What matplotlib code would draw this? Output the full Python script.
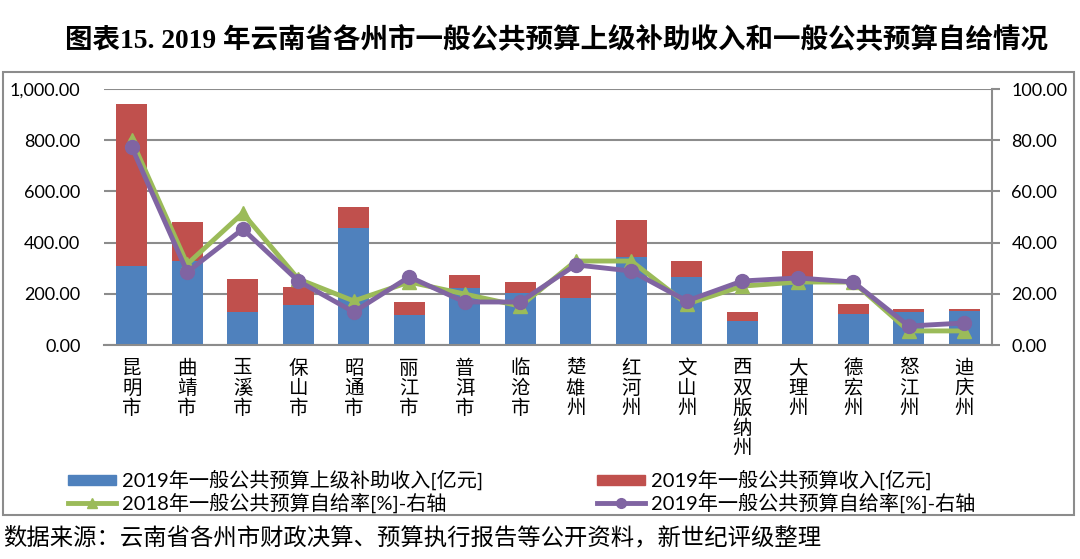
import matplotlib.pyplot as plt
from matplotlib.patches import Rectangle
from matplotlib.lines import Line2D
from matplotlib.patches import Patch

plt.rcParams['font.family'] = ['Lato', 'Noto Sans CJK SC', 'DejaVu Sans']

# data
cities = ['昆明市', '曲靖市', '玉溪市', '保山市', '昭通市', '丽江市', '普洱市', '临沧市',
          '楚雄州', '红河州', '文山州', '西双版纳州', '大理州', '德宏州', '怒江州', '迪庆州']
subsidy_2019 = [309, 328, 129, 156, 457, 117, 223, 203, 184, 344, 266, 94, 250, 121, 129, 133]
revenue_2019 = [632, 152, 129, 70, 82, 51, 50, 43, 86, 144, 62, 35, 117, 39, 12, 8]
rate_2018 = [80.0, 31.6, 51.5, 25.8, 17.2, 24.6, 19.9, 15.2, 32.8, 32.8, 16.0, 23.0, 24.6, 24.6, 5.5, 5.5]
rate_2019 = [77.3, 28.5, 45.3, 25.0, 12.9, 26.6, 16.8, 16.8, 31.3, 28.9, 17.2, 25.0, 26.2, 24.6, 7.4, 8.6]

left_ticks = [0, 200, 400, 600, 800, 1000]
right_ticks = [0, 20, 40, 60, 80, 100]

blue, red, green, purple = '#4F81BD', '#C0504D', '#9BBB59', '#8064A2'
gray = '#8c8c8c'

W, H = 1080, 559
fig = plt.figure(figsize=(W / 100, H / 100), dpi=100)

# outer frame
fig.patches.append(Rectangle((3 / W, 1 - 515 / H), 1071 / W, 443 / H, transform=fig.transFigure,
                             fill=False, edgecolor=gray, linewidth=1.5))

ax = fig.add_axes([104 / W, 1 - 345 / H, (992 - 104) / W, (345 - 89) / H])
x = list(range(len(cities)))
ax.bar(x, subsidy_2019, width=0.56, color=blue, zorder=2)
ax.bar(x, revenue_2019, width=0.56, bottom=subsidy_2019, color=red, zorder=2)
ax.set_xlim(-0.5, len(cities) - 0.5)
ax.set_ylim(0, 1000)
ax.set_yticks(left_ticks)
ax.set_yticklabels([f'{v:,.2f}' for v in left_ticks], fontsize=13)
ax.yaxis.grid(True, color=gray, linewidth=1.5)
ax.set_axisbelow(True)
ax.tick_params(axis='y', length=0, pad=17)
ax.set_xticks(x)
ax.set_xticklabels(['\n'.join(c) for c in cities], fontsize=14, va='top',
                   linespacing=0.95, family=['Noto Sans CJK SC'])
ax.tick_params(axis='x', length=0, pad=9)
for s in ['left', 'top', 'right']:
    ax.spines[s].set_visible(False)
ax.spines['bottom'].set_color(gray)
ax.spines['bottom'].set_linewidth(1.5)

ax2 = ax.twinx()
ax2.plot(x, rate_2018, color=green, linewidth=3.5, marker='^', markersize=10, zorder=3)
ax2.plot(x, rate_2019, color=purple, linewidth=3.5, marker='o', markersize=10, zorder=4)
ax2.set_ylim(0, 100)
ax2.set_yticks(right_ticks)
ax2.set_yticklabels([f'{v:.2f}' for v in right_ticks], fontsize=13)
ax2.tick_params(axis='y', direction='out', length=6, width=1.5, color=gray, pad=8)
for s in ['left', 'top', 'bottom']:
    ax2.spines[s].set_visible(False)
ax2.spines['right'].set_color(gray)
ax2.spines['right'].set_linewidth(1.5)

# legend, two columns placed separately
leg_kw = dict(frameon=False, fontsize=14.5, handlelength=2.4, handletextpad=0.3,
              handleheight=0.35, labelspacing=0.1, borderpad=0, borderaxespad=0,
              loc='upper left')
h1 = [Patch(color=blue), Line2D([], [], color=green, linewidth=3.5, marker='^', markersize=7)]
l1 = ['2019年一般公共预算上级补助收入[亿元]', '2018年一般公共预算自给率[%]-右轴']
h2 = [Patch(color=red), Line2D([], [], color=purple, linewidth=3.5, marker='o', markersize=7)]
l2 = ['2019年一般公共预算收入[亿元]', '2019年一般公共预算自给率[%]-右轴']
fig.legend(h1, l1, bbox_to_anchor=(68 / W, 1 - 470 / H), **leg_kw)
fig.legend(h2, l2, bbox_to_anchor=(597 / W, 1 - 470 / H), **leg_kw)

fig.text(65 / W, 1 - 40 / H, '图表15. 2019 年云南省各州市一般公共预算上级补助收入和一般公共预算自给情况',
         fontsize=19.8, fontweight='bold', va='center', ha='left',
         family=['Liberation Serif', 'Noto Sans CJK SC'])
fig.text(3 / W, 1 - 538 / H, '数据来源：云南省各州市财政决算、预算执行报告等公开资料，新世纪评级整理',
         fontsize=16.8, va='center', ha='left', family=['Noto Sans CJK SC'])

fig.savefig('out.png', dpi=100)
